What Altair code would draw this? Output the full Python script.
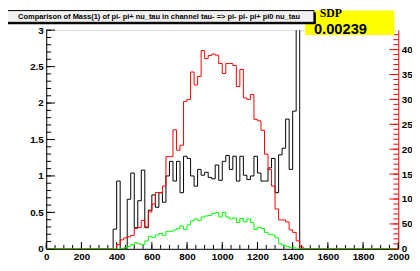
import altair as alt
import pandas as pd

# ---------------- data ----------------
BIN = 20
X_MAX = 2000
FIRST_EDGE = 380  # lower edge of the first listed bin

# black histogram (left axis)
black_ratio = [0.27, 0.93, 0, 0, 0.68, 1.04, 0.29, 0.66, 1.08, 0.29,
               0.53, 0.74, 0.57, 0.77, 0.64, 1.00, 1.20, 0.93, 1.20, 0.77,
               1.27, 1.24, 1.00, 0.86, 1.09, 1.01, 1.05, 0.98, 0.96, 1.15,
               0.94, 1.20, 1.28, 1.09, 1.27, 0.93, 1.27, 1.01, 0.95, 1.00,
               1.27, 1.04, 0.93, 0.93, 1.11, 1.24, 0.77, 1.29, 1.38, 1.78,
               1.09, 1.89, 3.5, 0]
# red histogram (right axis)
red_counts = [0, 0.85, 1.8, 2.2, 2.4, 2.7, 4.1, 4.3, 5.7, 4.4,
              7.4, 9.0, 11.3, 11.3, 12.6, 18.5, 18.5, 23.9, 19.8, 20.8,
              29.6, 30.0, 35.5, 32.9, 34.6, 39.8, 38.2, 38.8, 39.1, 38.9,
              37.2, 35.2, 37.2, 37.2, 36.8, 32.6, 36.0, 30.3, 30.0, 31.0,
              26.0, 25.7, 23.8, 19.0, 15.9, 12.6, 8.0, 5.8, 5.8, 5.4,
              3.8, 3.3, 1.6, 0.4]
# green histogram (right axis)
green_counts = [0, 0, 0.1, 0.2, 0.5, 0.85, 1.2, 1.0, 0.85, 1.6,
                2.5, 2.3, 2.8, 3.1, 2.7, 3.5, 3.5, 3.8, 4.1, 4.6,
                3.9, 4.8, 5.6, 6.0, 5.7, 6.4, 6.6, 6.7, 7.1, 7.3,
                6.4, 7.3, 6.4, 6.0, 6.2, 5.3, 6.1, 5.4, 6.0, 5.3,
                3.9, 4.3, 4.1, 3.3, 2.9, 2.8, 2.2, 1.0, 0.7, 0.5,
                0.3, 0.2, 0.1, 0]

x_labels = list(range(0, 2001, 200))
left_labels = [0, 0.5, 1, 1.5, 2, 2.5, 3]
right_labels = [0, 5, 10, 15, 20, 25, 30, 35, 40]
LEFT_MAX = 3
RIGHT_MAX = 43.9

title_text = "Comparison of Mass(1) of pi- pi+ nu_tau in channel tau- => pi- pi- pi+ pi0 nu_tau"
sdp_label = "SDP"
sdp_value = "0.00239"

# ---------------- layout ----------------
W, H = 359, 223
FONT = "Liberation Sans"


def hist_frame(values):
    n_bins = X_MAX // BIN
    full = [0.0] * n_bins
    start = FIRST_EDGE // BIN
    for i, v in enumerate(values):
        full[start + i] = v
    rows = [{"x": i * BIN, "v": full[i]} for i in range(n_bins)]
    rows.append({"x": X_MAX, "v": full[-1]})
    return pd.DataFrame(rows)


def frange(a, b, s):
    out, k = [], 0
    while a + k * s <= b + 1e-9:
        out.append(round(a + k * s, 6))
        k += 1
    return out


x_axis = alt.Axis(values=x_labels, format="d", ticks=False, grid=False, title=None,
                  labelFlush=False, labelOverlap=False, labelPadding=3,
                  domainColor="black", labelFont=FONT, labelFontWeight="bold",
                  labelFontSize=10, labelColor="black")
x_scale = alt.Scale(domain=[0, X_MAX], nice=False, zero=False)

left_axis = alt.Axis(orient="left", values=left_labels, format="~g", ticks=False,
                     grid=False, title=None, labelPadding=3, domainColor="black",
                     labelFont=FONT, labelFontWeight="bold", labelFontSize=10,
                     labelColor="black", labelOverlap=False)
left_scale = alt.Scale(domain=[0, LEFT_MAX], nice=False, zero=True)

right_axis = alt.Axis(orient="right", values=right_labels, ticks=False, grid=False,
                      title=None, labelPadding=3, domainColor="#ff0000",
                      labelExpr="datum.value == 5 ? '50' : datum.label",
                      labelFont=FONT, labelFontWeight="bold", labelFontSize=10,
                      labelColor="black", labelOverlap=False)
right_scale = alt.Scale(domain=[0, RIGHT_MAX], nice=False, zero=True)

X = alt.X("x:Q", scale=x_scale, axis=x_axis)

# ---- left group: black histogram + left / bottom ticks ----
black = alt.Chart(hist_frame(black_ratio)).mark_line(
    interpolate="step-after", color="black", strokeWidth=1, clip=True
).encode(x=X, y=alt.Y("v:Q", scale=left_scale, axis=left_axis))

left_major = alt.Chart(pd.DataFrame({"v": frange(0, 3, 0.5)})).mark_rule(
    color="black", strokeWidth=1
).encode(y=alt.Y("v:Q", scale=left_scale, axis=left_axis), x=alt.value(0), x2=alt.value(9))
left_minor = alt.Chart(pd.DataFrame({"v": frange(0, 3, 0.1)})).mark_rule(
    color="black", strokeWidth=1
).encode(y=alt.Y("v:Q", scale=left_scale, axis=left_axis), x=alt.value(0), x2=alt.value(5))

bottom_major = alt.Chart(pd.DataFrame({"x": frange(0, 2000, 200)})).mark_rule(
    color="black", strokeWidth=1
).encode(x=X, y=alt.value(H), y2=alt.value(H - 7))
bottom_minor = alt.Chart(pd.DataFrame({"x": frange(0, 2000, 50)})).mark_rule(
    color="black", strokeWidth=1
).encode(x=X, y=alt.value(H), y2=alt.value(H - 4))

left_group = alt.layer(black, left_major, left_minor, bottom_major, bottom_minor)

# ---- right group: red & green histograms + right ticks ----
red = alt.Chart(hist_frame(red_counts)).mark_line(
    interpolate="step-after", color="#ff0000", strokeWidth=1, clip=True
).encode(x=X, y=alt.Y("v:Q", scale=right_scale, axis=right_axis))
green = alt.Chart(hist_frame(green_counts)).mark_line(
    interpolate="step-after", color="#00ff00", strokeWidth=1, clip=True
).encode(x=X, y=alt.Y("v:Q", scale=right_scale, axis=right_axis))

right_major = alt.Chart(pd.DataFrame({"v": frange(0, 40, 5)})).mark_rule(
    color="#ff0000", strokeWidth=1
).encode(y=alt.Y("v:Q", scale=right_scale, axis=right_axis), x=alt.value(W - 9), x2=alt.value(W))
right_minor = alt.Chart(pd.DataFrame({"v": frange(0, 43, 1)})).mark_rule(
    color="#ff0000", strokeWidth=1
).encode(y=alt.Y("v:Q", scale=right_scale, axis=right_axis), x=alt.value(W - 5), x2=alt.value(W))

right_group = alt.layer(red, right_major, right_minor, green)

# ---- decorations: title pave and SDP box ----
one = pd.DataFrame({"k": [0]})

sdp_box = alt.Chart(one).mark_rect(color="#ffff00").encode(
    x=alt.value(264), x2=alt.value(355), y=alt.value(-20), y2=alt.value(5))
sdp_lab = alt.Chart(one).mark_text(
    font="Liberation Serif", fontWeight="bold", fontSize=12, align="left",
    baseline="alphabetic", color="black"
).encode(x=alt.value(279), y=alt.value(-13), text=alt.value(sdp_label))
sdp_val = alt.Chart(one).mark_text(
    font=FONT, fontWeight="bold", fontSize=15, align="left",
    baseline="alphabetic", color="black"
).encode(x=alt.value(273), y=alt.value(4), text=alt.value(sdp_value))

title_shadow = alt.Chart(one).mark_rect(color="black").encode(
    x=alt.value(-39), x2=alt.value(275), y=alt.value(-18), y2=alt.value(-6))
title_box = alt.Chart(one).mark_rect(fill="#f0f0f0", stroke="black", strokeWidth=1).encode(
    x=alt.value(-41), x2=alt.value(273), y=alt.value(-20), y2=alt.value(-8))
title_txt = alt.Chart(one).mark_text(
    font=FONT, fontWeight="bold", fontSize=7.6, align="center", baseline="middle",
    color="black"
).encode(x=alt.value(115), y=alt.value(-13.5), text=alt.value(title_text))

chart = alt.layer(
    left_group, right_group, sdp_box, sdp_lab, sdp_val, title_shadow, title_box, title_txt
).resolve_scale(y="independent").properties(
    width=W, height=H,
    autosize=alt.AutoSizeParams(type="none"),
    padding={"left": 39, "top": 20, "right": 14, "bottom": 20},
).configure_view(stroke="black", strokeWidth=1).configure(background="white")

chart.save("out.html", embed_options={"renderer": "svg", "actions": False})
